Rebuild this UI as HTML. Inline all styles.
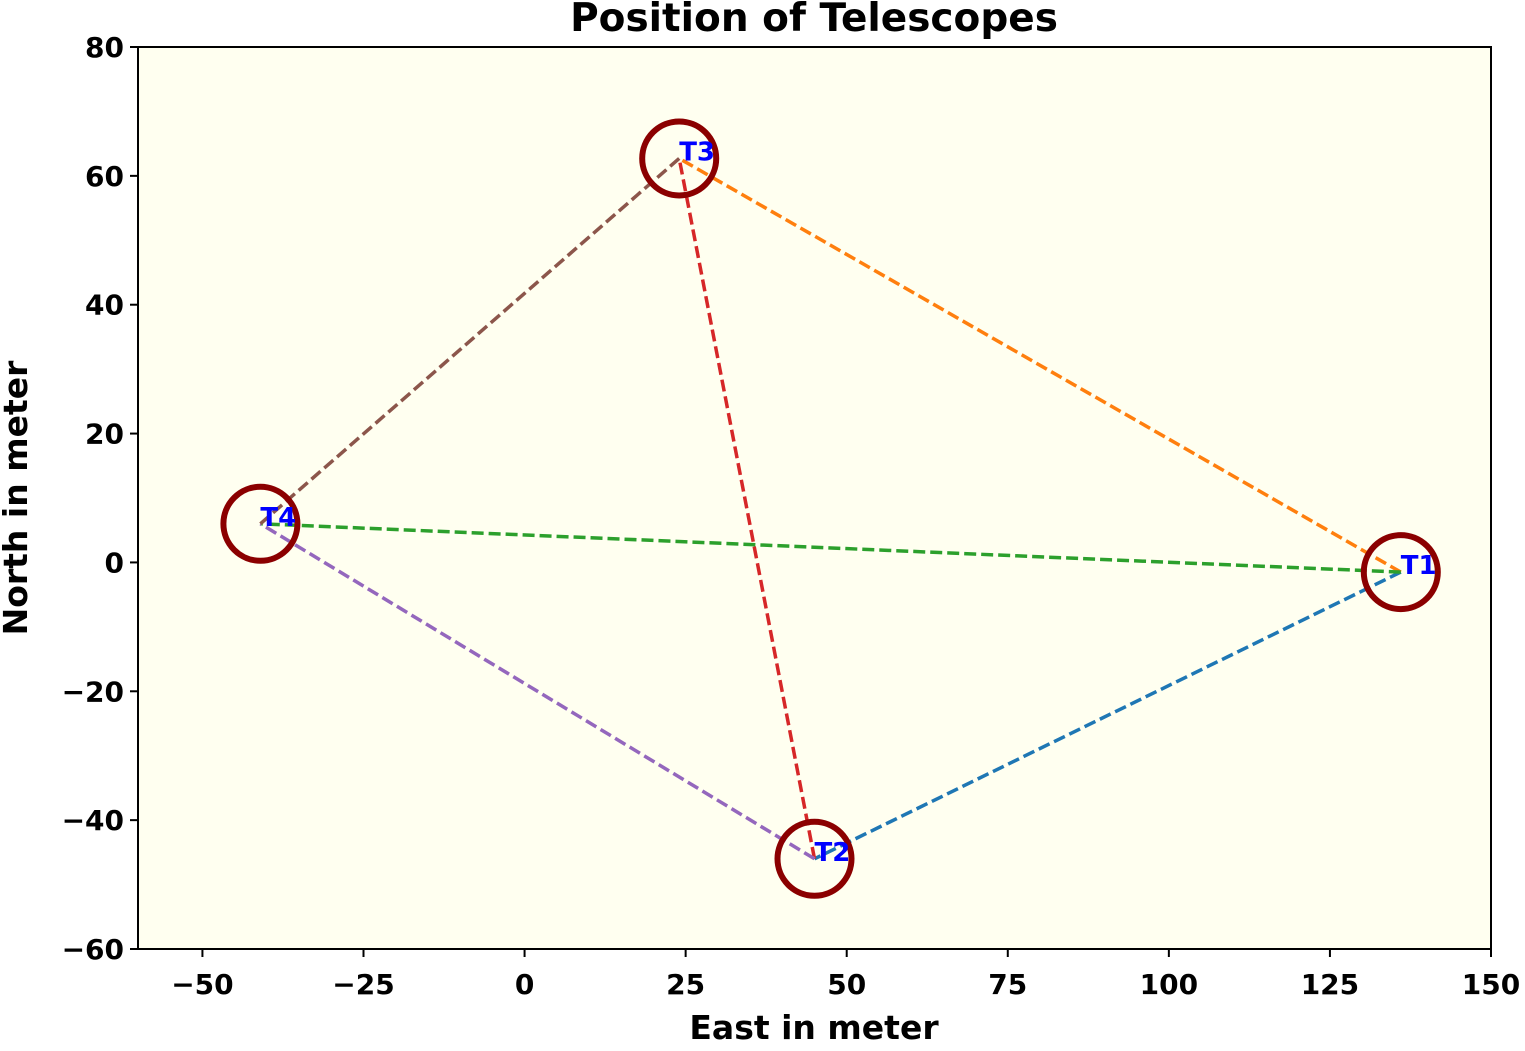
<!DOCTYPE html>
<html><head><meta charset="utf-8"><style>
body{margin:0;background:#fff;}
text{font-family:"DejaVu Sans","Liberation Sans",sans-serif;font-weight:bold;}
</style></head><body>
<svg id="chart" width="1525" height="1046" xmlns="http://www.w3.org/2000/svg">
<rect x="138" y="47" width="1353" height="902" fill="#fffff0"/>
<g id="lines"></g><g id="marks"></g><g id="axes"></g>
<rect x="138" y="47" width="1353" height="902" fill="none" stroke="#000" stroke-width="2"/>
<text x="814" y="31" font-size="39" text-anchor="middle">Position of Telescopes</text>
<text x="814" y="1039" font-size="33" text-anchor="middle">East in meter</text>
<text transform="translate(27,498) rotate(-90)" font-size="33" text-anchor="middle">North in meter</text>
</svg>
<script>
const names=['T1','T2','T3','T4'];
const east=[136,45,24,-41];
const north=[-1.5,-46,62.7,6];
const pairs=[[0,1],[0,2],[0,3],[1,2],[1,3],[2,3]];
const pairColors=['#1f77b4','#ff7f0e','#2ca02c','#d62728','#9467bd','#8c564b'];
const xTicks=[-50,-25,0,25,50,75,100,125,150];
const yTicks=[-60,-40,-20,0,20,40,60,80];
const X0=138,X1=1491,Y0=47,Y1=949,xmin=-60,xmax=150,ymin=-60,ymax=80;
const sx=v=>X0+(v-xmin)/(xmax-xmin)*(X1-X0);
const sy=v=>Y1-(v-ymin)/(ymax-ymin)*(Y1-Y0);
const NS='http://www.w3.org/2000/svg';
function mk(t,a,p){const e=document.createElementNS(NS,t);for(const k in a)e.setAttribute(k,a[k]);p.appendChild(e);return e;}
const L=document.getElementById('lines'),M=document.getElementById('marks'),A=document.getElementById('axes');
pairs.forEach((p,i)=>{const e=mk('line',{x1:sx(east[p[0]]),y1:sy(north[p[0]]),x2:sx(east[p[1]]),y2:sy(north[p[1]]),stroke:pairColors[i],'stroke-width':3.5,'stroke-dasharray':'12 5'},L);

});
names.forEach((n,i)=>{const c=mk('circle',{cx:sx(east[i]),cy:sy(north[i]),r:37,fill:'none',stroke:'#8b0000','stroke-width':6},M);


const t=mk('text',{x:sx(east[i])+0,y:sy(north[i])+2,'font-size':26,fill:'#0000ff'},M);t.textContent=n;

});
xTicks.forEach(v=>{const x=sx(v);mk('line',{x1:x,x2:x,y1:Y1,y2:Y1+8,stroke:'#000','stroke-width':2},A);
const t=mk('text',{x:x,y:Y1+45,'font-size':28,'text-anchor':'middle'},A);t.textContent=v<0?'\u2212'+(-v):v;

});
yTicks.forEach(v=>{const y=sy(v);mk('line',{x1:X0-8,x2:X0,y1:y,y2:y,stroke:'#000','stroke-width':2},A);
const t=mk('text',{x:X0-14,y:y+10,'font-size':28,'text-anchor':'end'},A);t.textContent=v<0?'\u2212'+(-v):v;

});
</script>
</body></html>
